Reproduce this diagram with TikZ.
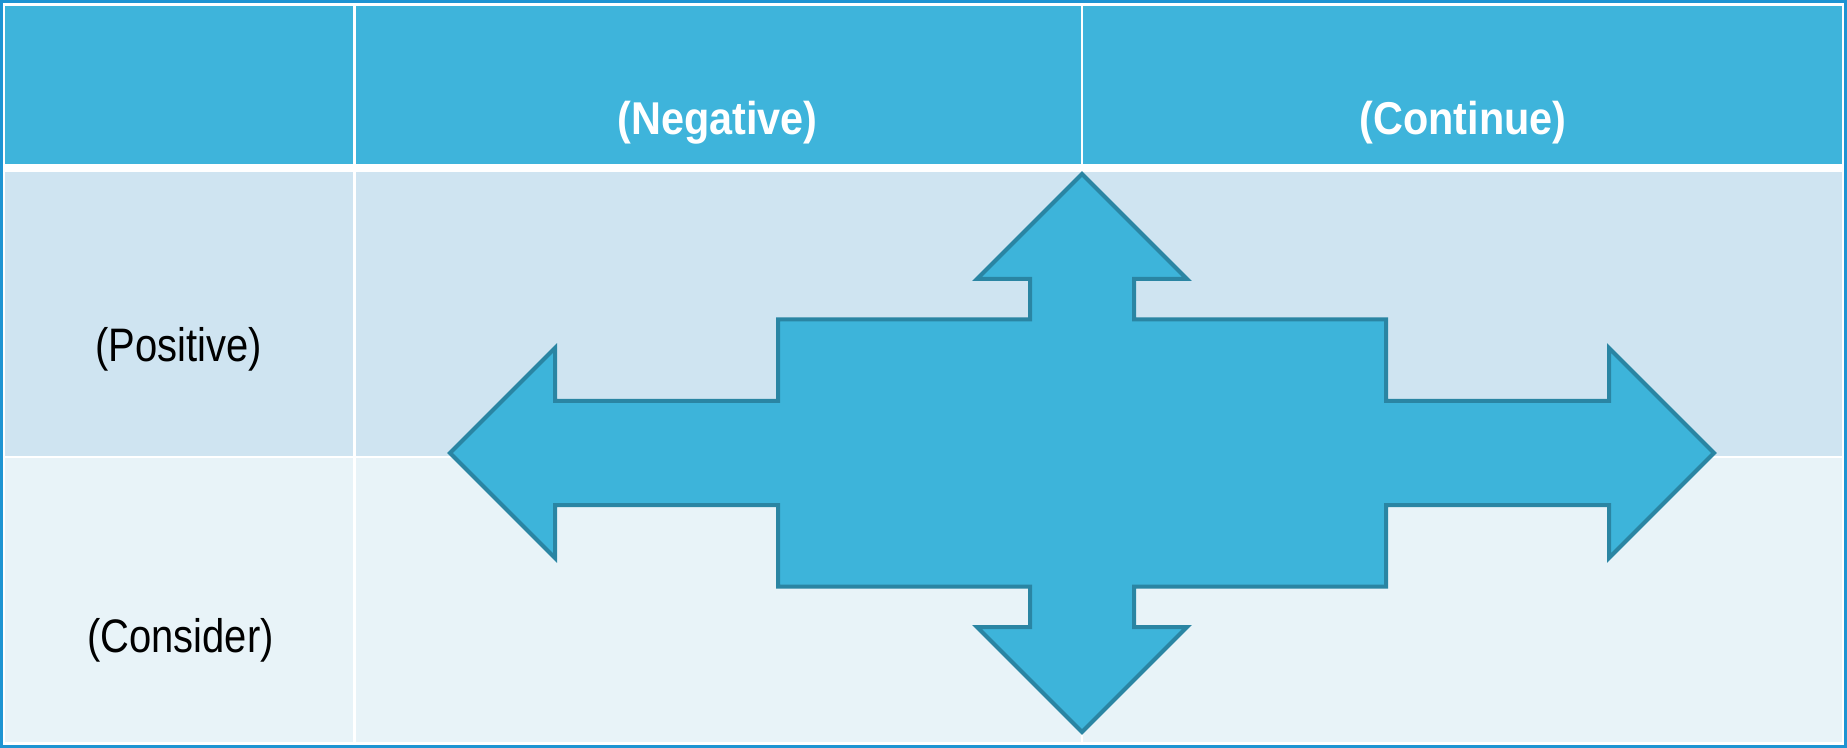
\documentclass[tikz,border=0pt]{standalone}
\usepackage{fontspec}
\setmainfont[FakeStretch=0.85]{Liberation Sans}
\newfontfamily\hdrfont[FakeStretch=0.9]{Liberation Sans}
\definecolor{hdrcol}{RGB}{62,180,219}
\definecolor{rowA}{RGB}{207,228,241}
\definecolor{rowB}{RGB}{232,243,248}
\definecolor{framecol}{RGB}{30,148,210}
\definecolor{arrowfill}{RGB}{61,180,218}
\definecolor{arrowline}{RGB}{42,133,163}
\tikzset{
  hdrtext/.style={anchor=base, text=white, font=\hdrfont\fontsize{23}{27}\selectfont\bfseries, inner sep=0pt},
  bodytext/.style={anchor=base, text=black, font=\fontsize{23.5}{27}\selectfont, inner sep=0pt},
  crossarrow/.style={fill=arrowfill, draw=arrowline, line width=2pt, line join=miter}
}
\begin{document}
\begin{tikzpicture}[x=0.5pt,y=-0.5pt]
\useasboundingbox (0,0) rectangle (1847,748);
\fill[white] (0,0) rectangle (1847,748);
% outer frame
\draw[framecol, line width=1.5pt] (1.5,1.5) rectangle (1845.5,746.5);
% header row
\fill[hdrcol] (5,6) rectangle (353,164.5);
\fill[hdrcol] (355.5,6) rectangle (1080.5,164.5);
\fill[hdrcol] (1083,6) rectangle (1841.5,164.5);
% first body row
\fill[rowA] (5,171.8) rectangle (353,455.8);
\fill[rowA] (355.5,171.8) rectangle (1080.5,455.8);
\fill[rowA] (1083,171.8) rectangle (1841.5,455.8);
% second body row
\fill[rowB] (5,458) rectangle (353,742);
\fill[rowB] (355.5,458) rectangle (1080.5,742);
\fill[rowB] (1083,458) rectangle (1841.5,742);
% texts
\node[hdrtext] (hN) at (717.5,135) {(Negative)};
\node[hdrtext] (hC) at (1463,135) {(Continue)};
\node[bodytext] (rP) at (178.5,362) {(Positive)};
\node[bodytext] (rC) at (180.5,652.5) {(Consider)};
% cross arrow
\begin{scope}[shift={(1082,453)}]
\draw[crossarrow]
  (0,-279) -- (105,-174) -- (52,-174) -- (52,-133.5) -- (304,-133.5) -- (304,-52)
  -- (527,-52) -- (527,-105) -- (632,0) -- (527,105) -- (527,52) -- (304,52)
  -- (304,133.5) -- (52,133.5) -- (52,174) -- (105,174) -- (0,279)
  -- (-105,174) -- (-52,174) -- (-52,133.5) -- (-304,133.5) -- (-304,52)
  -- (-527,52) -- (-527,105) -- (-632,0) -- (-527,-105) -- (-527,-52) -- (-304,-52)
  -- (-304,-133.5) -- (-52,-133.5) -- (-52,-174) -- (-105,-174) -- cycle;
\end{scope}
\end{tikzpicture}
\end{document}
